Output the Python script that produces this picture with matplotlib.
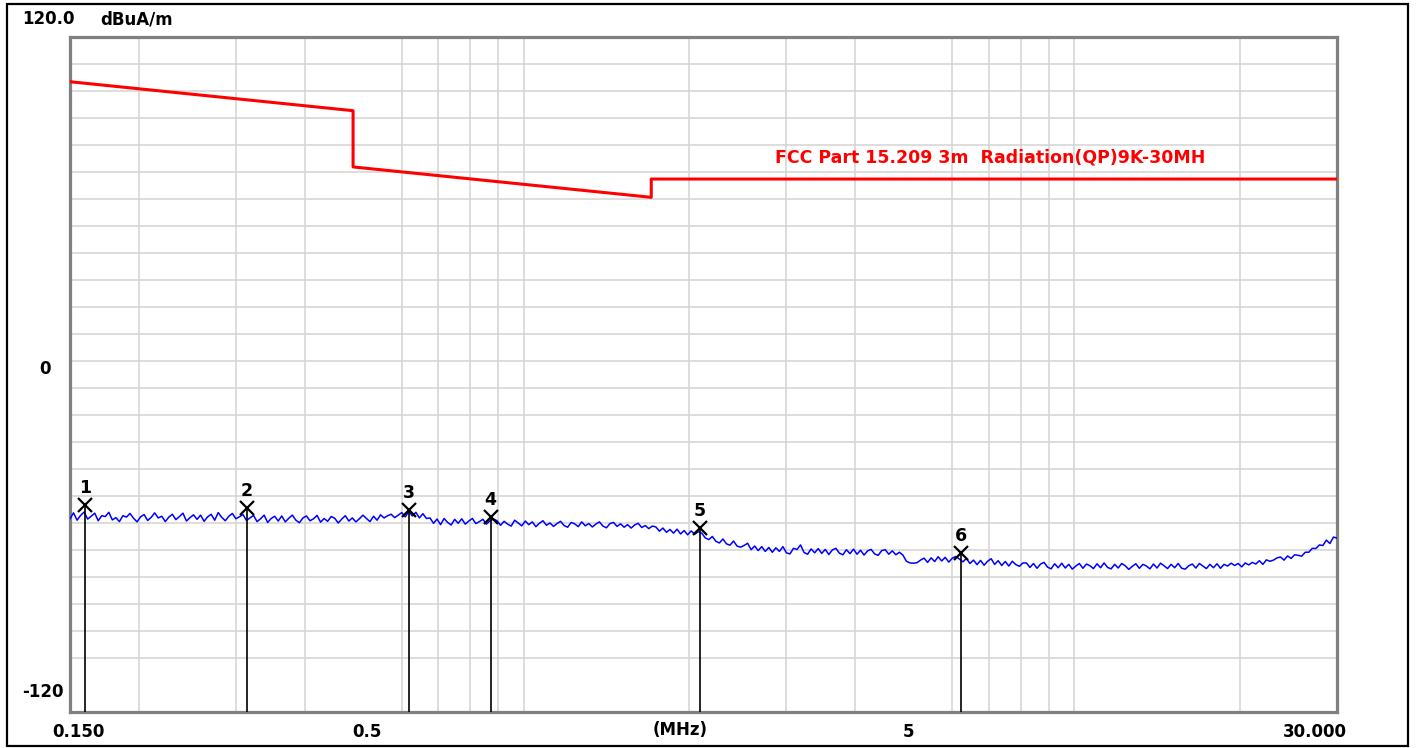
import numpy as np
import matplotlib
matplotlib.use("Agg")
import matplotlib.pyplot as plt
from matplotlib.patches import Rectangle
from matplotlib.transforms import ScaledTranslation

# limit line FCC Part 15.209 (3m), breakpoints in MHz / dB
limit_freq = [0.15, 0.49, 0.49, 1.705, 1.705, 30.0]
limit_level = [104.1, 93.8, 73.8, 63.0, 69.5, 69.5]
limit_name = "FCC Part 15.209 3m  Radiation(QP)9K-30MH"

# measured trace, sweep 0.15 - 30 MHz (log spaced)
trace_level = [
    -51.3, -49.2, -51.8, -50.1, -48.9, -51.4, -50.4, -49.3, -52.0, -50.2,
    -50.5, -49.0, -51.7, -50.9, -52.3, -50.2, -50.7, -49.4, -51.1, -52.4,
    -50.6, -49.8, -51.9, -50.8, -49.2, -51.0, -50.4, -52.3, -50.7, -49.7,
    -51.6, -50.5, -49.3, -52.1, -50.9, -49.9, -51.5, -50.0, -52.2, -50.6,
    -49.7, -51.8, -49.1, -50.8, -52.0, -50.4, -49.4, -51.3, -50.6, -49.8,
    -51.9,
    -51.0, -50.1, -52.3, -51.3, -50.0, -52.6, -51.2, -50.4, -52.1, -50.3,
    -52.4, -51.1, -50.0, -51.8, -52.7, -51.0, -50.3, -52.0, -51.3, -50.1,
    -52.5, -51.2, -52.2, -50.5, -51.1, -52.8, -51.4, -50.2, -52.1, -51.0,
    -52.4, -51.3, -50.0, -51.2, -52.3, -50.4, -51.8, -49.9, -51.0, -50.2,
    -49.7, -50.9, -50.0,
    -49.1, -50.6, -48.7, -50.3, -49.0, -51.0, -49.5, -51.2,
    -51.0, -52.9, -51.4, -53.4, -51.2, -52.6, -53.5, -51.5, -52.9, -51.3,
    -53.2, -52.1, -51.2, -53.0, -52.3, -51.5, -53.2, -52.0, -51.4,
    -52.0, -53.6, -52.2, -53.2, -53.9, -51.8, -52.8, -53.8, -52.1, -53.4,
    -52.4, -54.1, -52.9, -52.0, -53.6, -52.8, -54.0, -53.0, -52.2, -53.7,
    -54.3, -52.6, -53.1, -54.1, -52.4, -53.8, -53.0, -54.2, -53.2, -52.4,
    -53.9, -54.5, -53.0, -52.6, -54.0, -53.1, -54.3, -53.4, -54.6, -53.5,
    -52.9, -54.4, -53.7, -54.8, -53.9,
    -54.2, -55.7, -54.6, -56.1, -55.1, -56.4, -55.0, -56.7, -55.5, -57.0,
    -55.6, -56.8, -55.9,
    -56.4, -58.1, -58.7, -57.6, -59.3, -59.9, -58.5, -60.2, -60.7, -59.2,
    -61.0, -61.4,
    -60.8, -60.0, -62.3, -61.0, -62.6, -61.2, -62.9, -61.5, -63.2, -61.6,
    -62.9, -61.2, -63.4, -63.8, -61.8, -62.2, -60.6, -63.3, -63.9, -62.0,
    -63.4, -61.9, -63.6, -62.2, -64.0, -62.4, -61.8, -63.5, -64.1, -62.3,
    -63.7, -62.1, -63.9, -62.5, -64.2, -62.7, -62.2, -63.8, -64.3, -62.6,
    -62.3, -63.9, -62.7, -64.1, -63.2,
    -64.2, -66.4, -67.0, -67.1, -66.9,
    -66.0, -65.3, -66.8, -65.2, -66.5, -64.8, -66.3, -65.0, -66.7, -65.3,
    -64.7, -65.6,
    -66.6, -65.4, -67.2, -66.0, -67.6, -66.1, -67.8, -66.4, -65.5, -67.5,
    -66.2, -67.9, -66.5, -68.1, -66.4, -67.6, -68.2, -67.0,
    -67.0, -68.6, -67.2, -68.9, -67.4, -66.8, -68.5, -69.1, -67.3, -68.7,
    -67.1, -68.8, -67.5, -69.2, -68.1, -67.2, -68.9, -67.4, -68.0, -69.0,
    -67.3, -68.7, -67.0, -68.6, -69.1, -67.5, -68.8, -67.2, -68.0, -69.3,
    -68.2, -67.3, -68.9, -67.5, -68.1, -69.1, -67.4, -68.8, -67.1, -68.0,
    -69.0, -67.5, -68.7, -67.2, -68.9, -69.2, -68.0, -67.4, -68.8, -67.2,
    -68.1, -69.0, -67.5, -68.7, -67.3, -68.9, -67.5, -68.1, -67.1, -67.9,
    -67.2, -68.4, -67.0, -67.7, -66.8,
    -67.4, -66.2, -67.5, -65.9, -66.4, -66.0, -65.2, -64.9, -66.0, -64.5,
    -65.4, -64.1, -64.3, -64.6, -63.2,
    -63.2, -61.8, -61.9, -60.6, -60.8, -58.9, -60.1, -57.8, -58.2,
]
trace_freq = np.geomspace(0.15, 30.0, len(trace_level))

# peak markers
marker_freq = [0.160, 0.314, 0.619, 0.871, 2.091, 6.227]
marker_level = [-46.4, -47.5, -48.2, -50.6, -54.6, -63.5]
marker_labels = ["1", "2", "3", "4", "5", "6"]

x_ticks = [0.15, 0.5, 5, 30]
x_ticklabels = ["0.150", "0.5", "5", "30.000"]
x_label_shift = [8, 9, 0, -22]  # pixels
x_grid = [0.2, 0.3, 0.4, 0.6, 0.7, 0.8, 0.9, 1, 2, 3, 4, 6, 7, 8, 9, 10, 20]
y_min, y_max = -120, 120

fig = plt.figure(figsize=(14.2, 7.48), dpi=100)
fig.patches.append(Rectangle((7 / 1420, 2 / 748), 1401 / 1420, 742 / 748,
                             transform=fig.transFigure, fill=False,
                             edgecolor="black", linewidth=1.6))

ax = fig.add_axes([70 / 1420, 36 / 748, 1267 / 1420, 675 / 748])
ax.set_xscale("log")
ax.set_xlim(0.15, 30)
ax.set_ylim(y_min, y_max)

# grid
for f in x_grid:
    ax.axvline(f, color="#d3d3d3", lw=1.1, zorder=0)
for k in range(1, 24):
    ax.axhline(y_max - 9.6 * k, color="#d3d3d3", lw=1.1, zorder=0)

for s in ax.spines.values():
    s.set_color("#808080")
    s.set_linewidth(2.3)

ax.set_xticks(x_ticks)
ax.set_xticklabels(x_ticklabels, fontsize=12, fontweight="bold")
ax.xaxis.set_minor_locator(matplotlib.ticker.NullLocator())
ax.tick_params(axis="x", length=0, pad=8)
for lab, dx in zip(ax.get_xticklabels(), x_label_shift):
    lab.set_transform(lab.get_transform() + ScaledTranslation(dx / 100, 0, fig.dpi_scale_trans))
ax.set_yticks([])
ax.text(0.4815, -0.027, "(MHz)", transform=ax.transAxes, ha="center", va="center",
        fontsize=12, fontweight="bold")

# y labels (drawn above their level, like the analyzer software)
yax = ax.get_yaxis_transform()
ax.annotate("120.0", xy=(0, y_max), xycoords=yax, xytext=(5, 18), textcoords="offset pixels",
            ha="right", va="center", fontsize=12, fontweight="bold", annotation_clip=False)
ax.annotate("dBuA/m", xy=(0, y_max), xycoords=yax, xytext=(30, 18), textcoords="offset pixels",
            ha="left", va="center", fontsize=12, fontweight="bold", annotation_clip=False)
ax.annotate("0", xy=(0, 0), xycoords=yax, xytext=(-19, 5), textcoords="offset pixels",
            ha="right", va="center", fontsize=12, fontweight="bold", annotation_clip=False)
ax.annotate("-120", xy=(0, y_min), xycoords=yax, xytext=(-6, 20), textcoords="offset pixels",
            ha="right", va="center", fontsize=12, fontweight="bold", annotation_clip=False)

# limit line
ax.plot(limit_freq, limit_level, color="#ff0000", lw=2.2, zorder=3)
ax.text(0.5564, 0.8222, limit_name, transform=ax.transAxes, color="#ff0000",
        fontsize=12.5, fontweight="bold", ha="left", va="center")

# trace
ax.plot(trace_freq, trace_level, color="#0000ff", lw=1.1, zorder=3)

# markers
ax.vlines(marker_freq, y_min, marker_level, color="black", lw=1.2, zorder=4)
ax.plot(marker_freq, marker_level, "x", color="black", ms=10, mew=1.6, zorder=5)
for f, v, t in zip(marker_freq, marker_level, marker_labels):
    ax.annotate(t, xy=(f, v), xytext=(0, 17), textcoords="offset pixels",
                ha="center", va="center", fontsize=12.5, fontweight="bold", zorder=5)

fig.savefig("out.png", dpi=100)
